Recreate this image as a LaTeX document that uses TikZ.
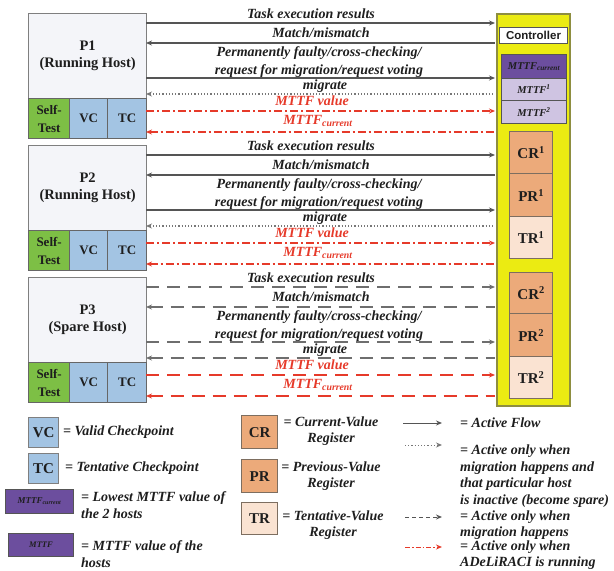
\documentclass[tikz,border=0pt]{standalone}
\usepackage{fontspec}
\setmainfont{Liberation Serif}
\newfontfamily\arialfont{Liberation Sans}
\usetikzlibrary{arrows.meta}
\definecolor{hostfill}{HTML}{F4F5F9}
\definecolor{hostdraw}{HTML}{7F7F7F}
\definecolor{selfgreen}{HTML}{7DBF45}
\definecolor{ckblue}{HTML}{A3C4E3}
\definecolor{ctrlyellow}{HTML}{EBEB12}
\definecolor{ctrldraw}{HTML}{8E8E40}
\definecolor{darkpurple}{HTML}{6C4E9E}
\definecolor{lightpurple}{HTML}{CFC4E2}
\definecolor{regorange}{HTML}{ECAA7A}
\definecolor{reglight}{HTML}{FAE3D2}
\definecolor{regdraw}{HTML}{7D6E60}
\definecolor{flowgray}{HTML}{555555}
\definecolor{flowred}{HTML}{E63A2A}
\definecolor{textdark}{HTML}{1E1E1E}
\tikzset{
  >={Stealth[length=6pt,width=5pt]},
  lbl/.style={font=\fontsize{14}{18}\selectfont\bfseries\itshape, inner sep=0pt, text=textdark},
  redlbl/.style={lbl, text=flowred},
  leg/.style={font=\fontsize{14}{16.5}\selectfont\bfseries\itshape, inner sep=0pt, text=textdark, anchor=west, align=left},
  hostbox/.style={draw=hostdraw, fill=hostfill, line width=1.3pt, minimum width=118pt, minimum height=85pt, anchor=north west, inner sep=0pt, align=center, font=\fontsize{14.5}{17}\selectfont\bfseries, text=textdark},
  cellbox/.style={draw=hostdraw!80!black, line width=1.3pt, minimum height=40pt, anchor=north west, inner sep=0pt, align=center, font=\fontsize{13}{18}\selectfont\bfseries, text=textdark},
  mttfbox/.style={draw=flowgray, line width=1pt, minimum width=65pt, anchor=north west, inner sep=0pt, font=\fontsize{10.5}{12}\selectfont\bfseries\itshape, text=textdark},
  regbox/.style={draw=regdraw, line width=1.3pt, minimum width=43pt, anchor=north west, inner sep=0pt, font=\fontsize{15}{17}\selectfont\bfseries, text=textdark},
  legbox/.style={draw=regdraw, line width=1.3pt, minimum width=36pt, anchor=north west, inner sep=0pt, font=\fontsize{15}{17}\selectfont\bfseries, text=textdark},
  solidflow/.style={draw=flowgray, line width=1.2pt},
  dotflow/.style={draw=flowgray!80, line width=1.2pt, dash pattern=on 1.2pt off 2pt},
  redflow/.style={draw=flowred, line width=1.2pt, dash pattern=on 8pt off 3pt on 2pt off 3pt},
  dashflow/.style={draw=flowgray!85, line width=1.2pt, dash pattern=on 13pt off 8pt},
  reddash/.style={draw=flowred, line width=1.2pt, dash pattern=on 13pt off 8pt},
}
\newcommand\hostflows[5]{%
  \coordinate (h#1a) at (146,#2+10);  \coordinate (c#1a) at (495,#2+10);
  \coordinate (h#1b) at (146,#2+30);  \coordinate (c#1b) at (495,#2+30);
  \coordinate (h#1c) at (146,#2+65);  \coordinate (c#1c) at (495,#2+65);
  \coordinate (h#1d) at (146,#2+81);  \coordinate (c#1d) at (495,#2+81);
  \coordinate (h#1e) at (146,#2+98);  \coordinate (c#1e) at (495,#2+98);
  \coordinate (h#1f) at (146,#2+119); \coordinate (c#1f) at (495,#2+119);
  \draw[#3,->] (h#1a) -- (c#1a);
  \draw[#3,<-] (h#1b) -- (c#1b);
  \draw[#3,->] (h#1c) -- (c#1c);
  \draw[#4,<-] (h#1d) -- (c#1d);
  \draw[#5,->] (h#1e) -- (c#1e);
  \draw[#5,<-] (h#1f) -- (c#1f);
  \node[lbl] (t#1a) at (311,#2+1) {Task execution results};
  \node[lbl] (t#1b) at (321,#2+20) {Match/mismatch};
  \node[lbl, align=center] (t#1c) at (319,#2+49) {Permanently faulty/cross-checking/\\request for migration/request voting};
  \node[lbl] (t#1d) at (325,#2+73) {migrate};
  \node[redlbl] (t#1e) at (312,#2+88) {MTTF value};
  \node[redlbl] (t#1f) at (318,#2+108) {MTTF\textsubscript{current}};
}
\begin{document}
\begin{tikzpicture}[x=1pt,y=-1pt]
\useasboundingbox (0,0) rectangle (614,571);
% controller column
\node[draw=ctrldraw, fill=ctrlyellow, line width=1.5pt, minimum width=73pt, minimum height=392pt, anchor=north west, inner sep=0pt] (ctrl) at (496,13) {};
\node[draw=flowgray, fill=white, line width=1pt, minimum width=68pt, minimum height=16pt, anchor=north west, inner sep=0pt, font=\arialfont\fontsize{11.5}{12}\selectfont\bfseries, text=textdark] (ctrlname) at (499,27) {Controller};
\node[mttfbox, fill=darkpurple, minimum height=24pt] (mcur) at (501,54) {MTTF\textsubscript{current}};
\node[mttfbox, fill=lightpurple, minimum height=22pt] (m1) at (501,78) {MTTF\textsuperscript{1}};
\node[mttfbox, fill=lightpurple, minimum height=23pt] (m2) at (501,100) {MTTF\textsuperscript{2}};
\node[regbox, fill=regorange, minimum height=42pt] (cr1) at (509,131) {CR\textsuperscript{1}};
\node[regbox, fill=regorange, minimum height=43pt] (pr1) at (509,173) {PR\textsuperscript{1}};
\node[regbox, fill=reglight, minimum height=42pt] (tr1) at (509,216) {TR\textsuperscript{1}};
\node[regbox, fill=regorange, minimum height=41pt] (cr2) at (509,272) {CR\textsuperscript{2}};
\node[regbox, fill=regorange, minimum height=43pt] (pr2) at (509,313) {PR\textsuperscript{2}};
\node[regbox, fill=reglight, minimum height=42pt] (tr2) at (509,356) {TR\textsuperscript{2}};
% hosts
\node[hostbox] (P1) at (28,13) {P1\\(Running Host)};
\node[cellbox, fill=selfgreen, minimum width=41pt] (st1) at (28,98) {Self-\\Test};
\node[cellbox, fill=ckblue, minimum width=38pt] (vc1) at (69,98) {VC};
\node[cellbox, fill=ckblue, minimum width=39pt] (tc1) at (107,98) {TC};
\node[hostbox] (P2) at (28,145) {P2\\(Running Host)};
\node[cellbox, fill=selfgreen, minimum width=41pt] (st2) at (28,230) {Self-\\Test};
\node[cellbox, fill=ckblue, minimum width=38pt] (vc2) at (69,230) {VC};
\node[cellbox, fill=ckblue, minimum width=39pt] (tc2) at (107,230) {TC};
\node[hostbox] (P3) at (28,277) {P3\\(Spare Host)};
\node[cellbox, fill=selfgreen, minimum width=41pt] (st3) at (28,362) {Self-\\Test};
\node[cellbox, fill=ckblue, minimum width=38pt] (vc3) at (69,362) {VC};
\node[cellbox, fill=ckblue, minimum width=39pt] (tc3) at (107,362) {TC};
% flows
\hostflows{1}{13}{solidflow}{dotflow}{redflow}
\hostflows{2}{145}{solidflow}{dotflow}{redflow}
\hostflows{3}{277}{dashflow}{dashflow}{reddash}
% legend left
\node[legbox, fill=ckblue, minimum width=30pt, minimum height=30pt, draw=hostdraw] (lvc) at (28,417) {VC};
\node[leg] (lvct) at (63,432) {= Valid Checkpoint};
\node[legbox, fill=ckblue, minimum width=30pt, minimum height=30pt, draw=hostdraw] (ltc) at (28,453) {TC};
\node[leg] (ltct) at (65,468) {= Tentative Checkpoint};
\node[mttfbox, fill=darkpurple, minimum width=68pt, minimum height=24pt, font=\fontsize{9}{10}\selectfont\bfseries\itshape] (lmc) at (5,489) {MTTF\textsubscript{current}};
\node[leg] (lmct) at (81,505) {= Lowest MTTF value of\\the 2 hosts};
\node[mttfbox, fill=darkpurple, minimum width=65pt, minimum height=23pt, font=\fontsize{8.5}{10}\selectfont\bfseries\itshape] (lm) at (8,533) {MTTF};
\node[leg] (lmt) at (81,554) {= MTTF value of the\\hosts};
% legend middle
\node[legbox, fill=regorange] (lcr) at (241,415) [minimum height=33pt] {CR};
\node[leg, align=center, anchor=center] (lcrt) at (331,431) {= Current-Value\\Register};
\node[legbox, fill=regorange] (lpr) at (241,459) [minimum height=33pt] {PR};
\node[leg, align=center, anchor=center] (lprt) at (331,476) {= Previous-Value\\Register};
\node[legbox, fill=reglight] (ltr) at (241,502) [minimum height=32pt] {TR};
\node[leg, align=center, anchor=center] (ltrt) at (333,525) {= Tentative-Value\\Register};
% legend right
\coordinate (la1) at (403,423); \coordinate (lb1) at (442,423);
\coordinate (la2) at (405,445); \coordinate (lb2) at (442,445);
\coordinate (la3) at (405,517); \coordinate (lb3) at (442,517);
\coordinate (la4) at (405,547); \coordinate (lb4) at (442,547);
\draw[solidflow, line width=1pt, ->] (la1) -- (lb1);
\draw[dotflow, line width=1pt, ->] (la2) -- (lb2);
\draw[draw=flowgray, line width=1pt, dash pattern=on 4pt off 3pt, ->] (la3) -- (lb3);
\draw[draw=flowred, line width=1pt, dash pattern=on 5pt off 2pt on 1.5pt off 2pt, ->] (la4) -- (lb4);
\node[leg] (lf1) at (460,423) {= Active Flow};
\node[leg, anchor=north west] (lf2) at (460,445) {= Active only when\\migration happens and\\that particular host\\is inactive (become spare)};
\node[leg] (lf3) at (460,525) {= Active only when\\migration happens};
\node[leg] (lf4) at (460,555) {= Active only when\\ADeLiRACI is running};
\end{tikzpicture}
\end{document}
